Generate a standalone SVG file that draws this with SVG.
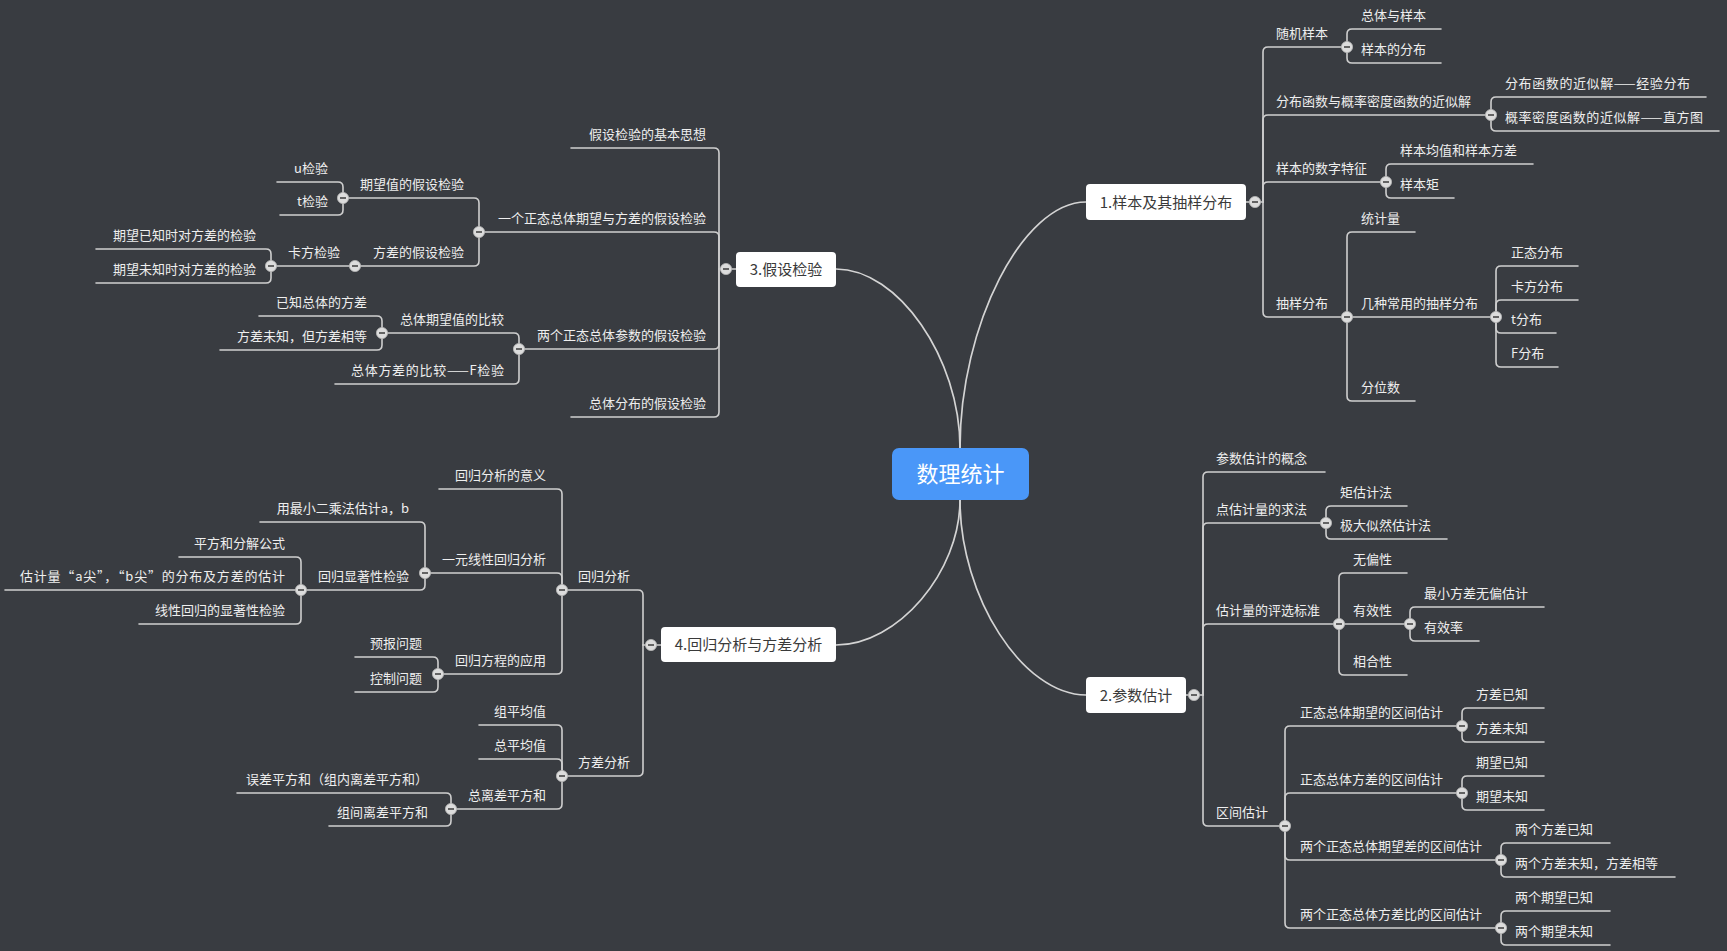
<svg xmlns="http://www.w3.org/2000/svg" xmlns:xlink="http://www.w3.org/1999/xlink" width="1727" height="951" viewBox="0 0 1727 951">
<defs>
<style>
.bg{fill:#393c41}
.ln{fill:none;stroke:#cfcfcf;stroke-width:1.6;stroke-linecap:round}
.mc{fill:none;stroke:#d4d4d4;stroke-width:1.7}
.t{font-family:"Noto Sans CJK SC","Microsoft YaHei",sans-serif;font-size:13px;fill:#eeeeee}
.l{text-anchor:end}
.topic{fill:#ffffff}
.tt{font-family:"Noto Sans CJK SC","Microsoft YaHei",sans-serif;font-size:15px;fill:#3a3a3a;text-anchor:middle}
.rt{font-family:"Noto Sans CJK SC","Microsoft YaHei",sans-serif;font-size:22px;fill:#ffffff;text-anchor:middle}
</style>
<g id="btn">
<circle r="5.6" fill="#dcdcdc" stroke="#b8b8b8" stroke-width="0.8"/>
<line x1="-3" y1="0" x2="3" y2="0" stroke="#555" stroke-width="1.8"/>
</g>
</defs>
<rect class="bg" x="0" y="0" width="1727" height="951"/>

<g id="connectors">
<path class="mc" d="M960,448 C960,325 1023,202 1086,202"/>
<path class="mc" d="M960,448 C960,358 898,269 836,269"/>
<path class="mc" d="M960,500 C960,572 898,645 836,645"/>
<path class="mc" d="M960,500 C960,597 1023,695 1086,695"/>

<path class="ln" d="M1246,202 H1263"/>
<path class="ln" d="M1263,202 V52 Q1263,47 1268,47 H1347"/>
<path class="ln" d="M1263,202 V120 Q1263,115 1268,115 H1491"/>
<path class="ln" d="M1263,202 V187 Q1263,182 1268,182 H1386"/>
<path class="ln" d="M1263,202 V312 Q1263,317 1268,317 H1347"/>
<path class="ln" d="M1347,47 V34 Q1347,29 1352,29 H1441"/>
<path class="ln" d="M1347,47 V58 Q1347,63 1352,63 H1441"/>
<path class="ln" d="M1491,115 V102 Q1491,97 1496,97 H1706"/>
<path class="ln" d="M1491,115 V126 Q1491,131 1496,131 H1719"/>
<path class="ln" d="M1386,182 V169 Q1386,164 1391,164 H1533"/>
<path class="ln" d="M1386,182 V193 Q1386,198 1391,198 H1454"/>
<path class="ln" d="M1347,317 V237 Q1347,232 1352,232 H1415"/>
<path class="ln" d="M1347,317 H1496"/>
<path class="ln" d="M1347,317 V396 Q1347,401 1352,401 H1415"/>
<path class="ln" d="M1496,317 V271 Q1496,266 1501,266 H1578"/>
<path class="ln" d="M1496,317 V305 Q1496,300 1501,300 H1578"/>
<path class="ln" d="M1496,317 V328 Q1496,333 1501,333 H1556"/>
<path class="ln" d="M1496,317 V362 Q1496,367 1501,367 H1558"/>

<path class="ln" d="M1186,695 H1203"/>
<path class="ln" d="M1203,695 V477 Q1203,472 1208,472 H1325"/>
<path class="ln" d="M1203,695 V528 Q1203,523 1208,523 H1326"/>
<path class="ln" d="M1203,695 V629 Q1203,624 1208,624 H1339"/>
<path class="ln" d="M1203,695 V821 Q1203,826 1208,826 H1285"/>
<path class="ln" d="M1326,523 V511 Q1326,506 1331,506 H1407"/>
<path class="ln" d="M1326,523 V534 Q1326,539 1331,539 H1447"/>
<path class="ln" d="M1339,624 V578 Q1339,573 1344,573 H1407"/>
<path class="ln" d="M1339,624 H1410"/>
<path class="ln" d="M1339,624 V670 Q1339,675 1344,675 H1407"/>
<path class="ln" d="M1410,624 V612 Q1410,607 1415,607 H1544"/>
<path class="ln" d="M1410,624 V636 Q1410,641 1415,641 H1479"/>
<path class="ln" d="M1285,826 V731 Q1285,726 1290,726 H1462"/>
<path class="ln" d="M1285,826 V798 Q1285,793 1290,793 H1462"/>
<path class="ln" d="M1285,826 V855 Q1285,860 1290,860 H1501"/>
<path class="ln" d="M1285,826 V923 Q1285,928 1290,928 H1501"/>
<path class="ln" d="M1462,726 V713 Q1462,708 1467,708 H1544"/>
<path class="ln" d="M1462,726 V737 Q1462,742 1467,742 H1544"/>
<path class="ln" d="M1462,793 V781 Q1462,776 1467,776 H1544"/>
<path class="ln" d="M1462,793 V805 Q1462,810 1467,810 H1544"/>
<path class="ln" d="M1501,860 V848 Q1501,843 1506,843 H1610"/>
<path class="ln" d="M1501,860 V872 Q1501,877 1506,877 H1675"/>
<path class="ln" d="M1501,928 V916 Q1501,911 1506,911 H1610"/>
<path class="ln" d="M1501,928 V940 Q1501,945 1506,945 H1610"/>

<path class="ln" d="M736,269 H719"/>
<path class="ln" d="M719,269 V153 Q719,148 714,148 H571"/>
<path class="ln" d="M719,269 V237 Q719,232 714,232 H479"/>
<path class="ln" d="M719,269 V344 Q719,349 714,349 H519"/>
<path class="ln" d="M719,269 V412 Q719,417 714,417 H571"/>
<path class="ln" d="M479,232 V203 Q479,198 474,198 H343"/>
<path class="ln" d="M479,232 V261 Q479,266 474,266 H355"/>
<path class="ln" d="M343,198 V187 Q343,182 338,182 H277"/>
<path class="ln" d="M343,198 V210 Q343,215 338,215 H280"/>
<path class="ln" d="M355,266 H271"/>
<path class="ln" d="M271,266 V254 Q271,249 266,249 H96"/>
<path class="ln" d="M271,266 V278 Q271,283 266,283 H96"/>
<path class="ln" d="M519,349 V338 Q519,333 514,333 H382"/>
<path class="ln" d="M519,349 V379 Q519,384 514,384 H335"/>
<path class="ln" d="M382,333 V321 Q382,316 377,316 H259"/>
<path class="ln" d="M382,333 V345 Q382,350 377,350 H220"/>

<path class="ln" d="M661,645 H643"/>
<path class="ln" d="M643,645 V595 Q643,590 638,590 H562"/>
<path class="ln" d="M643,645 V771 Q643,776 638,776 H562"/>
<path class="ln" d="M562,590 V494 Q562,489 557,489 H439"/>
<path class="ln" d="M562,590 V578 Q562,573 557,573 H425"/>
<path class="ln" d="M562,590 V669 Q562,674 557,674 H438"/>
<path class="ln" d="M425,573 V527 Q425,522 420,522 H260"/>
<path class="ln" d="M425,573 V585 Q425,590 420,590 H301"/>
<path class="ln" d="M301,590 V562 Q301,557 296,557 H179"/>
<path class="ln" d="M301,590 H5"/>
<path class="ln" d="M301,590 V619 Q301,624 296,624 H139"/>
<path class="ln" d="M438,674 V662 Q438,657 433,657 H355"/>
<path class="ln" d="M438,674 V687 Q438,692 433,692 H355"/>
<path class="ln" d="M562,776 V730 Q562,725 557,725 H479"/>
<path class="ln" d="M562,776 V764 Q562,759 557,759 H479"/>
<path class="ln" d="M562,776 V804 Q562,809 557,809 H451"/>
<path class="ln" d="M451,809 V798 Q451,793 446,793 H237"/>
<path class="ln" d="M451,809 V821 Q451,826 446,826 H329"/>
</g>

<g id="root">
<rect x="892" y="448" width="137" height="52" rx="7" fill="#4a97f8"/>
<text class="rt" x="960.5" y="482">数理统计</text>
</g>

<g id="topic1">
<rect class="topic" x="1086" y="184" width="160" height="36" rx="4"/>
<text class="tt" x="1166" y="207.5">1.样本及其抽样分布</text>
<use href="#btn" x="1255" y="202"/>
</g>
<g id="topic2">
<rect class="topic" x="1086" y="677" width="100" height="36" rx="4"/>
<text class="tt" x="1136" y="700.5">2.参数估计</text>
<use href="#btn" x="1194" y="695"/>
</g>
<g id="topic3">
<rect class="topic" x="736" y="252" width="100" height="35" rx="4"/>
<text class="tt" x="786" y="275">3.假设检验</text>
<use href="#btn" x="726" y="269"/>
</g>
<g id="topic4">
<rect class="topic" x="661" y="627" width="175" height="35" rx="4"/>
<text class="tt" x="748.5" y="650">4.回归分析与方差分析</text>
<use href="#btn" x="651" y="645"/>
</g>

<g id="n1a"><text class="t" x="1276" y="38">随机样本</text><use href="#btn" x="1347" y="47"/></g>
<g id="n1a1"><text class="t" x="1361" y="20">总体与样本</text></g>
<g id="n1a2"><text class="t" x="1361" y="54">样本的分布</text></g>
<g id="n1b"><text class="t" x="1276" y="106">分布函数与概率密度函数的近似解</text><use href="#btn" x="1491" y="115"/></g>
<g id="n1b1"><text class="t" x="1505" y="88" textLength="185" lengthAdjust="spacing">分布函数的近似解——经验分布</text></g>
<g id="n1b2"><text class="t" x="1505" y="122" textLength="198" lengthAdjust="spacing">概率密度函数的近似解——直方图</text></g>
<g id="n1c"><text class="t" x="1276" y="173">样本的数字特征</text><use href="#btn" x="1386" y="182"/></g>
<g id="n1c1"><text class="t" x="1400" y="155">样本均值和样本方差</text></g>
<g id="n1c2"><text class="t" x="1400" y="189">样本矩</text></g>
<g id="n1d"><text class="t" x="1276" y="308">抽样分布</text><use href="#btn" x="1347" y="317"/></g>
<g id="n1d1"><text class="t" x="1361" y="223">统计量</text></g>
<g id="n1d2"><text class="t" x="1361" y="308">几种常用的抽样分布</text><use href="#btn" x="1496" y="317"/></g>
<g id="n1d21"><text class="t" x="1511" y="257">正态分布</text></g>
<g id="n1d22"><text class="t" x="1511" y="291">卡方分布</text></g>
<g id="n1d23"><text class="t" x="1511" y="324">t分布</text></g>
<g id="n1d24"><text class="t" x="1511" y="358">F分布</text></g>
<g id="n1d3"><text class="t" x="1361" y="392">分位数</text></g>

<g id="n2a"><text class="t" x="1216" y="463">参数估计的概念</text></g>
<g id="n2b"><text class="t" x="1216" y="514">点估计量的求法</text><use href="#btn" x="1326" y="523"/></g>
<g id="n2b1"><text class="t" x="1340" y="497">矩估计法</text></g>
<g id="n2b2"><text class="t" x="1340" y="530">极大似然估计法</text></g>
<g id="n2c"><text class="t" x="1216" y="615">估计量的评选标准</text><use href="#btn" x="1339" y="624"/></g>
<g id="n2c1"><text class="t" x="1353" y="564">无偏性</text></g>
<g id="n2c2"><text class="t" x="1353" y="615">有效性</text><use href="#btn" x="1410" y="624"/></g>
<g id="n2c21"><text class="t" x="1424" y="598">最小方差无偏估计</text></g>
<g id="n2c22"><text class="t" x="1424" y="632">有效率</text></g>
<g id="n2c3"><text class="t" x="1353" y="666">相合性</text></g>
<g id="n2d"><text class="t" x="1216" y="817">区间估计</text><use href="#btn" x="1285" y="826"/></g>
<g id="n2d1"><text class="t" x="1300" y="717">正态总体期望的区间估计</text><use href="#btn" x="1462" y="726"/></g>
<g id="n2d11"><text class="t" x="1476" y="699">方差已知</text></g>
<g id="n2d12"><text class="t" x="1476" y="733">方差未知</text></g>
<g id="n2d2"><text class="t" x="1300" y="784">正态总体方差的区间估计</text><use href="#btn" x="1462" y="793"/></g>
<g id="n2d21"><text class="t" x="1476" y="767">期望已知</text></g>
<g id="n2d22"><text class="t" x="1476" y="801">期望未知</text></g>
<g id="n2d3"><text class="t" x="1300" y="851">两个正态总体期望差的区间估计</text><use href="#btn" x="1501" y="860"/></g>
<g id="n2d31"><text class="t" x="1515" y="834">两个方差已知</text></g>
<g id="n2d32"><text class="t" x="1515" y="868">两个方差未知，方差相等</text></g>
<g id="n2d4"><text class="t" x="1300" y="919">两个正态总体方差比的区间估计</text><use href="#btn" x="1501" y="928"/></g>
<g id="n2d41"><text class="t" x="1515" y="902">两个期望已知</text></g>
<g id="n2d42"><text class="t" x="1515" y="936">两个期望未知</text></g>

<g id="n3a"><text class="t l" x="706" y="139">假设检验的基本思想</text></g>
<g id="n3b"><text class="t l" x="706" y="223">一个正态总体期望与方差的假设检验</text><use href="#btn" x="479" y="232"/></g>
<g id="n3b1"><text class="t l" x="464" y="189">期望值的假设检验</text><use href="#btn" x="343" y="198"/></g>
<g id="n3b11"><text class="t l" x="328" y="173">u检验</text></g>
<g id="n3b12"><text class="t l" x="328" y="206">t检验</text></g>
<g id="n3b2"><text class="t l" x="464" y="257">方差的假设检验</text><use href="#btn" x="355" y="266"/></g>
<g id="n3b21"><text class="t l" x="340" y="257">卡方检验</text><use href="#btn" x="271" y="266"/></g>
<g id="n3b211"><text class="t l" x="256" y="240">期望已知时对方差的检验</text></g>
<g id="n3b212"><text class="t l" x="256" y="274">期望未知时对方差的检验</text></g>
<g id="n3c"><text class="t l" x="706" y="340">两个正态总体参数的假设检验</text><use href="#btn" x="519" y="349"/></g>
<g id="n3c1"><text class="t l" x="504" y="324">总体期望值的比较</text><use href="#btn" x="382" y="333"/></g>
<g id="n3c11"><text class="t l" x="367" y="307">已知总体的方差</text></g>
<g id="n3c12"><text class="t l" x="367" y="341">方差未知，但方差相等</text></g>
<g id="n3c2"><text class="t l" x="504" y="375" textLength="153" lengthAdjust="spacing">总体方差的比较——F检验</text></g>
<g id="n3d"><text class="t l" x="706" y="408">总体分布的假设检验</text></g>

<g id="n4a"><text class="t l" x="630" y="581">回归分析</text><use href="#btn" x="562" y="590"/></g>
<g id="n4a1"><text class="t l" x="546" y="480">回归分析的意义</text></g>
<g id="n4a2"><text class="t l" x="546" y="564">一元线性回归分析</text><use href="#btn" x="425" y="573"/></g>
<g id="n4a21"><text class="t l" x="409" y="513">用最小二乘法估计a，b</text></g>
<g id="n4a22"><text class="t l" x="409" y="581">回归显著性检验</text><use href="#btn" x="301" y="590"/></g>
<g id="n4a221"><text class="t l" x="285" y="548">平方和分解公式</text></g>
<g id="n4a222"><text class="t l" x="285" y="581" textLength="265" lengthAdjust="spacing">估计量“a尖”，“b尖”的分布及方差的估计</text></g>
<g id="n4a223"><text class="t l" x="285" y="615">线性回归的显著性检验</text></g>
<g id="n4a3"><text class="t l" x="546" y="665">回归方程的应用</text><use href="#btn" x="438" y="674"/></g>
<g id="n4a31"><text class="t l" x="422" y="648">预报问题</text></g>
<g id="n4a32"><text class="t l" x="422" y="683">控制问题</text></g>
<g id="n4b"><text class="t l" x="630" y="767">方差分析</text><use href="#btn" x="562" y="776"/></g>
<g id="n4b1"><text class="t l" x="546" y="716">组平均值</text></g>
<g id="n4b2"><text class="t l" x="546" y="750">总平均值</text></g>
<g id="n4b3"><text class="t l" x="546" y="800">总离差平方和</text><use href="#btn" x="451" y="809"/></g>
<g id="n4b31"><text class="t l" x="428" y="784">误差平方和（组内离差平方和）</text></g>
<g id="n4b32"><text class="t l" x="428" y="817">组间离差平方和</text></g>
</svg>
